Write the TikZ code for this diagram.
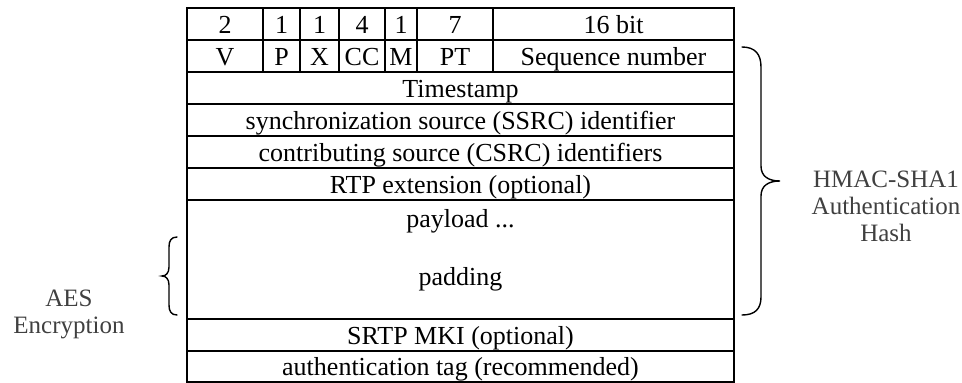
\documentclass[tikz,border=0pt]{standalone}
\usepackage{fontspec}
\setmainfont{Liberation Serif}
\definecolor{lblgray}{RGB}{64,64,64}
\begin{document}
\begin{tikzpicture}[x=1pt,y=-1pt,
  cell/.style={draw, line width=2pt, inner sep=0pt, outer sep=0pt,
    font=\fontsize{26}{30}\selectfont, text height=22pt, text depth=3.4pt},
  txt/.style={inner sep=0pt, font=\fontsize{26}{30}\selectfont, text height=22pt, text depth=3.4pt},
  lbl/.style={inner sep=0pt, align=center, text=lblgray, font=\fontsize{25}{27}\selectfont},
  bracel/.style={line width=1.4pt, line cap=round}]
\useasboundingbox (0,0) rectangle (962,383);
% header row
\node[cell, minimum width=76pt, minimum height=32pt] (h1) at (225,24) {2};
\node[cell, minimum width=37pt, minimum height=32pt] (h2) at (281.5,24) {1};
\node[cell, minimum width=39pt, minimum height=32pt] (h3) at (319.5,24) {1};
\node[cell, minimum width=46pt, minimum height=32pt] (h4) at (362,24) {4};
\node[cell, minimum width=32pt, minimum height=32pt] (h5) at (401,24) {1};
\node[cell, minimum width=76pt, minimum height=32pt] (h6) at (455,24) {7};
\node[cell, minimum width=241pt, minimum height=32pt] (h7) at (613.5,24) {16 bit};
% field row
\node[cell, minimum width=76pt, minimum height=32pt] (f1) at (225,56) {V};
\node[cell, minimum width=37pt, minimum height=32pt] (f2) at (281.5,56) {P};
\node[cell, minimum width=39pt, minimum height=32pt] (f3) at (319.5,56) {X};
\node[cell, minimum width=46pt, minimum height=32pt] (f4) at (362,56) {CC};
\node[cell, minimum width=32pt, minimum height=32pt] (f5) at (401,56) {M};
\node[cell, minimum width=76pt, minimum height=32pt] (f6) at (455,56) {PT};
\node[cell, minimum width=241pt, minimum height=32pt] (f7) at (613.5,56) {Sequence number};
% full rows
\node[cell, minimum width=547pt, minimum height=32pt] (ts) at (460.5,88) {Timestamp};
\node[cell, minimum width=547pt, minimum height=32pt] (ssrc) at (460.5,120) {synchronization source (SSRC) identifier};
\node[cell, minimum width=547pt, minimum height=32pt] (csrc) at (460.5,152) {contributing source (CSRC) identifiers};
\node[cell, minimum width=547pt, minimum height=32pt] (ext) at (460.5,184) {RTP extension (optional)};
\node[cell, minimum width=547pt, minimum height=119pt] (pay) at (460.5,259.5) {};
\node[txt] (payt) at (460.5,217.7) {payload ...};
\node[txt] (padt) at (460.5,275.7) {padding};
\node[cell, minimum width=547pt, minimum height=32pt] (mki) at (460.5,335) {SRTP MKI (optional)};
\node[cell, minimum width=547pt, minimum height=31pt] (tag) at (460.5,366.5) {authentication tag (recommended)};
% braces
\draw[bracel] (742,47) .. controls (755,47) and (761,54) .. (761,67) -- (761,166)
  .. controls (761,176) and (768,181) .. (780,181)
  .. controls (768,181) and (761,186) .. (761,196) -- (761,297)
  .. controls (761,309) and (755,315) .. (742,315);
\draw[bracel] (177,237) .. controls (171,237) and (169,241) .. (169,247) -- (169,267)
  .. controls (169,273) and (166,276) .. (162,276)
  .. controls (166,276) and (169,279) .. (169,285) -- (169,305)
  .. controls (169,311) and (171,315) .. (177,315);
% labels
\node[lbl] (hmac) at (886,206.5) {HMAC-SHA1\\Authentication\\Hash};
\node[lbl] (aes) at (69,314) {AES\\Encryption};
\end{tikzpicture}
\end{document}
